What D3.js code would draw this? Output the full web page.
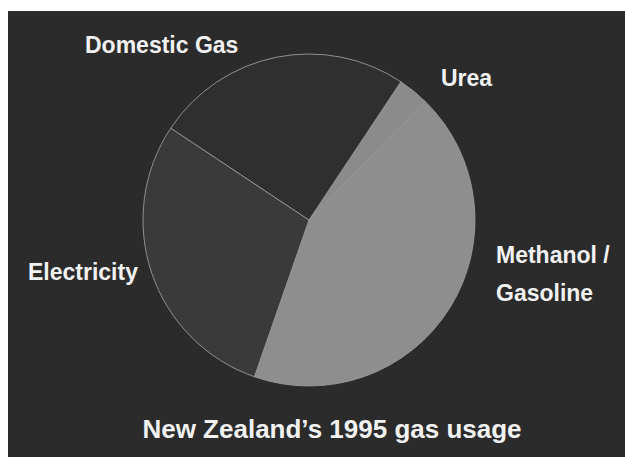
<!DOCTYPE html>
<html>
<head>
<meta charset="utf-8">
<script src="https://cdn.jsdelivr.net/npm/d3@7"></script>
<style>
  html, body { margin: 0; padding: 0; background: #ffffff; }
  svg { display: block; }
  text { font-family: "Liberation Sans", Arial, sans-serif; font-weight: bold; fill: #f2f2f2; }
</style>
</head>
<body>
<svg id="chart" width="625" height="457"></svg>
<script>
const categories = ["Urea", "Methanol / Gasoline", "Electricity", "Domestic Gas"];
const values = [3, 43, 29, 25];
const sliceColors = ["#8b8b8b", "#8e8e8e", "#3a3a3a", "#2f2f2f"];
const title = "New Zealand\u2019s 1995 gas usage";

const W = 625, H = 457;
const svg = d3.select("#chart");

svg.append("rect").attr("x", 8).attr("y", 11).attr("width", W - 8).attr("height", H - 11)
  .attr("fill", "#2b2b2b");

const cx = 309, cy = 220, R = 166;
const start = 33.6 * Math.PI / 180;
const pie = d3.pie().sort(null).value(d => d.v).startAngle(start).endAngle(start + 2 * Math.PI);
const arc = d3.arc().innerRadius(0).outerRadius(R);
const data = categories.map((c, i) => ({ c, v: values[i], col: sliceColors[i] }));

const g = svg.append("g").attr("transform", `translate(${cx},${cy})`);
g.selectAll("path").data(pie(data)).join("path")
  .attr("d", arc)
  .attr("fill", d => d.data.col)
  .attr("stroke", "#9a9a9a")
  .attr("stroke-width", 0.9)
  .attr("stroke-linejoin", "round");

// labels
const labels = [
  { lines: ["Domestic Gas"], x: 85, y: 53 },
  { lines: ["Urea"], x: 441, y: 86 },
  { lines: ["Methanol /", "Gasoline"], x: 496, y: 263, dy: 38 },
  { lines: ["Electricity"], x: 28, y: 280 }
];
labels.forEach(l => {
  const t = svg.append("text").attr("x", l.x).attr("y", l.y).style("font-size", "23px");
  l.lines.forEach((s, i) => {
    t.append("tspan").attr("x", l.x).attr("y", l.y + i * (l.dy || 0)).text(s);
  });
});

svg.append("text").attr("x", 332).attr("y", 438).attr("text-anchor", "middle")
  .style("font-size", "26px").text(title);
</script>
</body>
</html>
